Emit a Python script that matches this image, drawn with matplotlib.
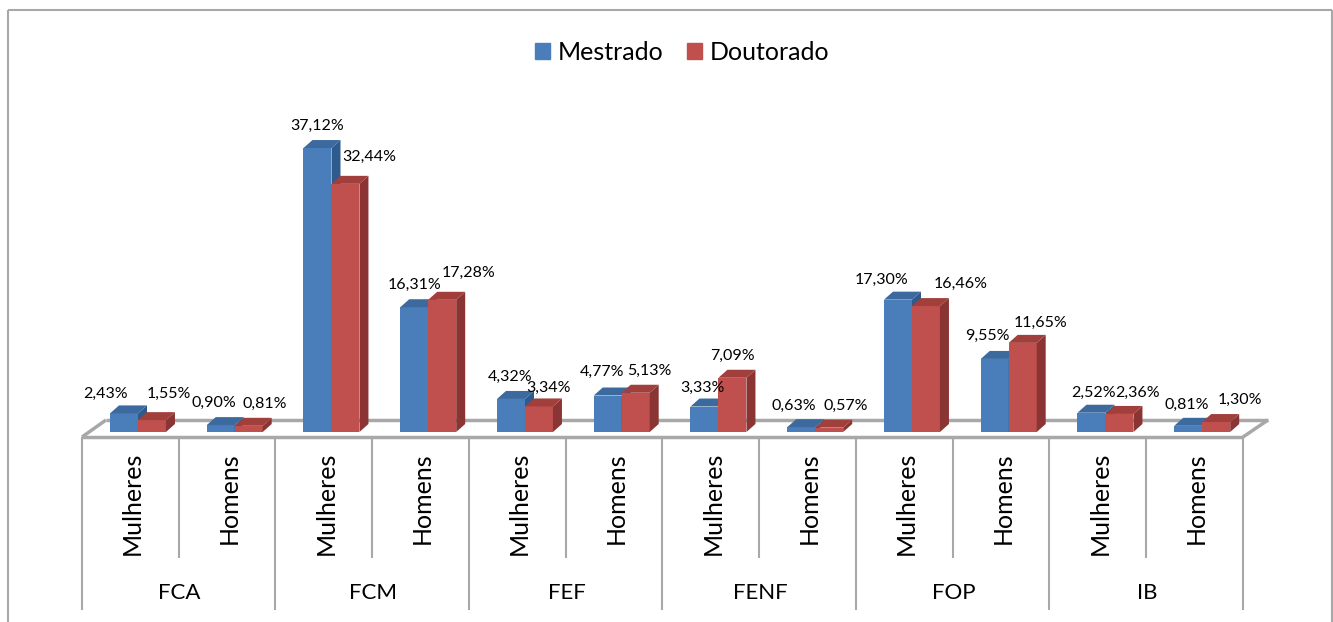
import matplotlib
matplotlib.use('Agg')
import matplotlib.pyplot as plt

groups = ['FCA', 'FCM', 'FEF', 'FENF', 'FOP', 'IB']
sexes = ['Mulheres', 'Homens']
mestrado = [2.43, 0.90, 37.12, 16.31, 4.32, 4.77, 3.33, 0.63, 17.30, 9.55, 2.52, 0.81]
doutorado = [1.55, 0.81, 32.44, 17.28, 3.34, 5.13, 7.09, 0.57, 16.46, 11.65, 2.36, 1.30]

# label nudges in pixels, the chart places them by hand
mestrado_off = [(-18, 20), (-7, 22), (0, 22), (0, 22), (-1, 22), (-6, 24),
                (-2, 19), (-7, 21), (-16, 20), (-7, 23), (2, 20), (-1, 21)]
doutorado_off = [(17, 26), (16, 22), (24, 27), (26, 27), (10, 19), (14, 22),
                 (0, 22), (17, 22), (35, 22), (18, 20), (18, 21), (24, 22)]

plt.rcParams['font.family'] = ['Lato', 'DejaVu Sans']

W, H = 1333, 622
CAT = 96.75      # pixels per category
PCT = 7.65       # pixels per percent
X0, Y0 = 82, 432 # pixel of x=0, value=0
GREY = '#a8a8a8'

fig = plt.figure(figsize=(W / 100, H / 100), dpi=100)
ax = fig.add_axes([0, 0, 1, 1])
ax.set_xlim(-X0 / CAT, (W - X0) / CAT)
ax.set_ylim((Y0 - H) / PCT, Y0 / PCT)
ax.axis('off')


def px(x, y):
    return (x - X0) / CAT, (Y0 - y) / PCT


def seg(x1, y1, x2, y2, lw=1.5):
    a, b = px(x1, y1), px(x2, y2)
    ax.plot([a[0], b[0]], [a[1], b[1]], color=GREY, lw=lw, solid_capstyle='butt', zorder=1)


# outer border
seg(8, 10, 1332, 10)
seg(8, 10, 8, H)
seg(1332, 10, 1332, H)

# floor
seg(82, 437, 1243, 437, 2.5)
seg(106, 420, 1268, 420, 2.5)
seg(82, 437, 106, 420, 2.5)
seg(1243, 437, 1268, 420, 2.5)

# category separators
for k in range(13):
    seg(X0 + k * CAT, 437, X0 + k * CAT, 610 if k % 2 == 0 else 558)

bar_w = 28 / CAT
dx = 9 / CAT
dy = 8 / PCT


def bars(values, shift, front, side, top, offs):
    for i, v in enumerate(values):
        x = i + 0.5 + shift
        l, r = x - bar_w / 2, x + bar_w / 2
        ax.bar(x, v, bar_w, color=front, zorder=3)
        ax.fill([r, r + dx, r + dx, r], [0, dy, v + dy, v], color=side, lw=0, zorder=3)
        ax.fill([l, l + dx, r + dx, r], [v, v + dy, v + dy, v], color=top, lw=0, zorder=3)
        ax.annotate(f'{v:.2f}%'.replace('.', ','), (x, v), xytext=offs[i],
                    textcoords='offset pixels', ha='center', va='center',
                    fontsize=11.5, color='black', zorder=5)


bars(mestrado, -0.066, '#4a7ebb', '#2f5a8c', '#3c6a9f', mestrado_off)
bars(doutorado, 0.223, '#c0504d', '#8a3533', '#a13f3c', doutorado_off)

for i in range(12):
    ty = 503 if i % 2 == 0 else 498
    ax.text(i + 0.5 + 0.02, px(0, ty)[1], sexes[i % 2], rotation=90,
            ha='center', va='center', fontsize=18, color='black')

for j, g in enumerate(groups):
    ax.text(2 * j + 1 + 0.01, px(0, 593)[1], g, ha='center', va='center', fontsize=16, color='black')

handles = [plt.Rectangle((0, 0), 1, 1, color='#4a7ebb'), plt.Rectangle((0, 0), 1, 1, color='#c0504d')]
ax.legend(handles, ['Mestrado', 'Doutorado'], ncol=2, frameon=False, fontsize=18,
          loc='center', bbox_to_anchor=(682 / W, 1 - 52 / H), bbox_transform=fig.transFigure,
          handlelength=0.62, handleheight=0.62, handletextpad=0.28, columnspacing=0.95)

fig.savefig('out.png', dpi=100)
